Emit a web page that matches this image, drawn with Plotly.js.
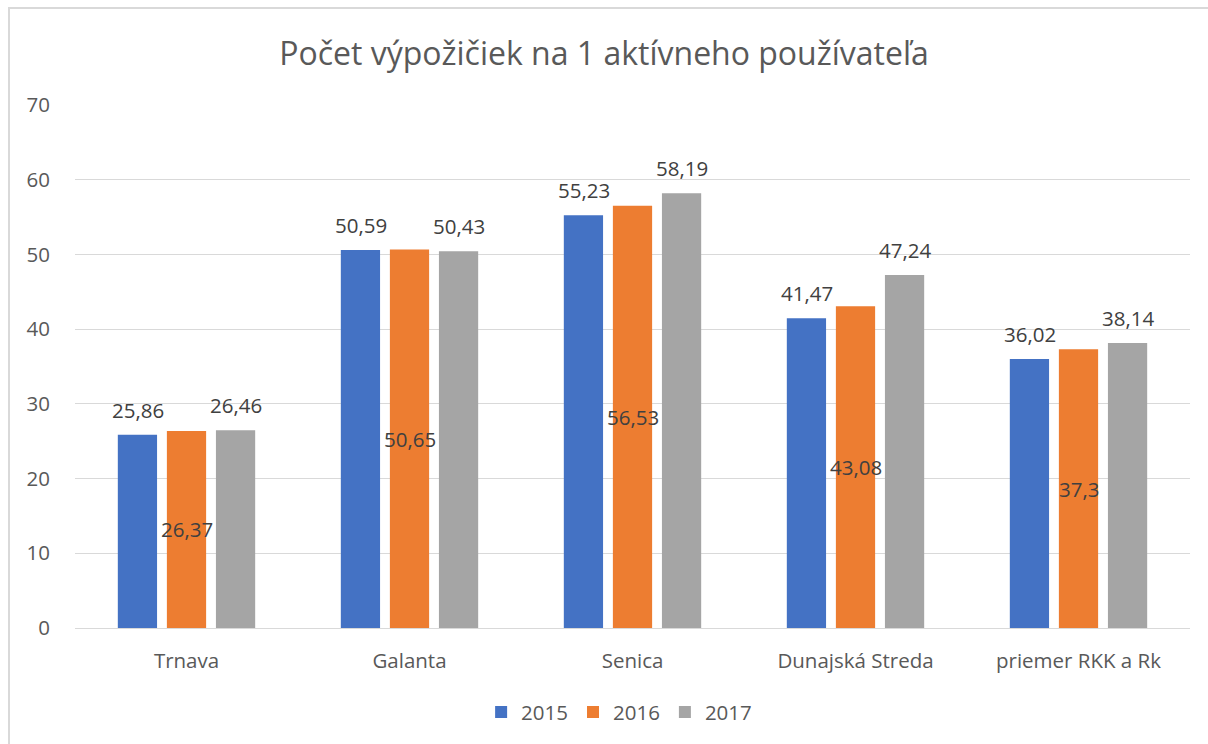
<!DOCTYPE html>
<html><head><meta charset="utf-8">
<script src="https://cdn.plot.ly/plotly-3.0.1.min.js"></script>
<style>
html,body{margin:0;padding:0;background:#fff;overflow:hidden;}
#frame{position:absolute;left:8px;top:7px;width:1220px;height:760px;border:2px solid #d9d9d9;box-sizing:border-box;}
#chart{position:absolute;left:0;top:0;width:1208px;height:744px;}
</style></head>
<body>
<div id="frame"></div>
<div id="chart"></div>
<script>
const categories = ["Trnava", "Galanta", "Senica", "Dunajská Streda", "priemer RKK a Rk"];
const years = ["2015", "2016", "2017"];
const v2015 = [25.86, 50.59, 55.23, 41.47, 36.02];
const v2016 = [26.37, 50.65, 56.53, 43.08, 37.3];
const v2017 = [26.46, 50.43, 58.19, 47.24, 38.14];
const colors = ["#4472C4", "#ED7D31", "#A5A5A5"];
const series = [v2015, v2016, v2017];
const fmt = v => String(v).replace('.', ',');

const traces = series.map((vals, i) => ({
  type: 'bar', name: years[i], x: categories, y: vals,
  marker: {color: colors[i]}, hoverinfo: 'skip'
}));

const FS = 20.5;
const annotations = [];
const shifts = [-49, 0, 49];
series.forEach((vals, i) => {
  vals.forEach((v, j) => {
    if (i === 1) {
      annotations.push({x: categories[j], y: v / 2, xref: 'x', yref: 'y', text: fmt(v),
        showarrow: false, xshift: shifts[i], font: {family: 'Open Sans', size: FS, color: '#404040'}});
    } else {
      annotations.push({x: categories[j], y: v, xref: 'x', yref: 'y', text: fmt(v),
        showarrow: false, xshift: shifts[i], yanchor: 'bottom', yshift: 9,
        font: {family: 'Open Sans', size: FS, color: '#404040'}});
    }
  });
});

const layout = {
  width: 1208, height: 744,
  margin: {l: 75, r: 18, t: 105, b: 116},
  paper_bgcolor: 'rgba(0,0,0,0)', plot_bgcolor: 'rgba(0,0,0,0)',
  barmode: 'group', bargap: 0.34, bargroupgap: 0.2,
  font: {family: 'Open Sans', color: '#595959'},
  title: {text: 'Počet výpožičiek na 1 aktívneho používateľa', x: 0.5, xanchor: 'center',
    y: 0.928, yanchor: 'middle', font: {family: 'Open Sans', size: 32, color: '#595959'}},
  xaxis: {type: 'category', showgrid: false, showline: true, linecolor: '#d9d9d9', linewidth: 1,
    ticks: '', tickfont: {family: 'Open Sans', size: FS, color: '#595959'}, ticklabelstandoff: 14},
  yaxis: {range: [0, 70], dtick: 10, showgrid: true, gridcolor: '#d9d9d9', gridwidth: 1,
    zeroline: false, showline: false, ticks: '', ticklabelstandoff: 24,
    tickfont: {family: 'Open Sans', size: FS, color: '#595959'}},
  legend: {orientation: 'h', x: 0.488, xanchor: 'center', y: -0.161, yanchor: 'middle',
    font: {family: 'Open Sans', size: FS, color: '#595959'}, itemwidth: 30, traceorder: 'normal'},
  annotations: annotations,
  showlegend: true
};

Plotly.newPlot('chart', traces, layout, {displayModeBar: false, staticPlot: true});
</script>
</body></html>
